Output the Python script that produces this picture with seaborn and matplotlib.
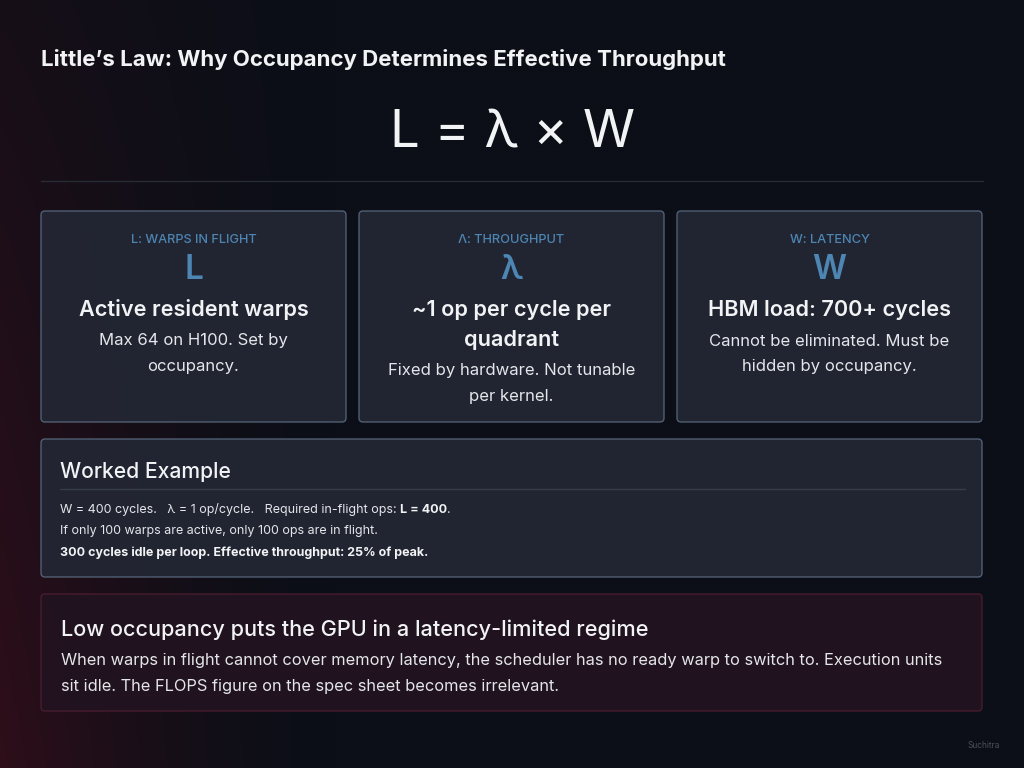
import numpy as np
import matplotlib
matplotlib.use("Agg")
import matplotlib.pyplot as plt
import seaborn as sns
from matplotlib.patches import FancyBboxPatch

# ---------------- data ----------------
title = "Little\u2019s Law: Why Occupancy Determines Effective Throughput"
formula = "L = \u03bb \u00d7 W"
card_labels = ["L: WARPS IN FLIGHT", "\u039b: THROUGHPUT", "W: LATENCY"]
card_symbols = ["L", "\u03bb", "W"]
card_headings = [["Active resident warps"], ["~1 op per cycle per", "quadrant"], ["HBM load: 700+ cycles"]]
card_descs = [["Max 64 on H100. Set by", "occupancy."],
              ["Fixed by hardware. Not tunable", "per kernel."],
              ["Cannot be eliminated. Must be", "hidden by occupancy."]]
example_title = "Worked Example"
example_line1 = ["W = 400 cycles.   \u03bb = 1 op/cycle.   Required in-flight ops: ", "L = 400", "."]
example_line2 = "If only 100 warps are active, only 100 ops are in flight."
example_line3 = "300 cycles idle per loop. Effective throughput: 25% of peak."
warn_title = "Low occupancy puts the GPU in a latency-limited regime"
warn_body = ["When warps in flight cannot cover memory latency, the scheduler has no ready warp to switch to. Execution units",
             "sit idle. The FLOPS figure on the spec sheet becomes irrelevant."]
credit = "Suchitra"

# ---------------- style ----------------
sns.set_theme(style="dark")
plt.rcParams['font.family'] = ['Inter', 'DejaVu Sans']

BG = np.array([12, 15, 23]) / 255
RED = np.array([46, 14, 26]) / 255
WHITE = "#f2f3f5"
TEXT = "#e4e6ea"
BLUE = "#4d85b3"
CARD_FILL = "#232834"
CARD_EDGE = "#55657a"
DY = 2  # vertical text nudge

fig = plt.figure(figsize=(10.24, 7.68), dpi=100)
ax = fig.add_axes([0, 0, 1, 1])
ax.set_xlim(0, 1024)
ax.set_ylim(768, 0)
ax.axis("off")

# background gradient (reddish glow on the left, stronger at bottom)
H, W = 192, 256
xx = np.linspace(0, 1, W)[None, :]
yy = np.linspace(0, 1, H)[:, None]
w = np.clip(1 - xx / 0.32, 0, 1) ** 1.6 * (0.3 + 0.7 * yy)
img = BG[None, None, :] * (1 - w[..., None]) + RED[None, None, :] * w[..., None]
ax.imshow(img, extent=(0, 1024, 768, 0), aspect="auto", zorder=0, interpolation="bilinear")

# title
ax.text(41, 57 + DY, title, fontsize=16, fontweight="bold", color=WHITE, va="center", ha="left")
# formula
ax.text(512, 132 + DY, formula, fontsize=38, fontweight="normal", color=WHITE, va="center", ha="center")
# divider
ax.plot([41, 983], [181, 181], color="#262b35", lw=1)

def box(x0, y0, x1, y1, fc, ec, alpha=1.0):
    p = FancyBboxPatch((x0, y0), x1 - x0, y1 - y0,
                       boxstyle="round,pad=0,rounding_size=4",
                       fc=fc, ec=ec, lw=1, alpha=alpha, zorder=1)
    ax.add_patch(p)

card_x = [(41, 346), (359, 664), (677, 982)]
for i, (x0, x1) in enumerate(card_x):
    box(x0, 211, x1, 422, CARD_FILL, CARD_EDGE, alpha=0.92)
    cx = (x0 + x1) / 2
    ax.text(cx, 238 + DY, card_labels[i], fontsize=9.2, fontweight="medium", color=BLUE,
            ha="center", va="center", zorder=3)
    ax.text(cx, 268 + DY, card_symbols[i], fontsize=24, fontweight="semibold", color=BLUE,
            ha="center", va="center", zorder=3)
    y = 308 + DY
    for line in card_headings[i]:
        ax.text(cx, y, line, fontsize=15.6, fontweight="semibold", color=WHITE,
                ha="center", va="center", zorder=3)
        y += 30
    y += 1
    for line in card_descs[i]:
        ax.text(cx, y, line, fontsize=12, color=TEXT,
                ha="center", va="center", zorder=3)
        y += 25

# worked example
box(41, 439, 982, 577, CARD_FILL, CARD_EDGE, alpha=0.92)
ax.text(60, 470 + DY, example_title, fontsize=15.2, fontweight="medium", color=WHITE,
        ha="left", va="center", zorder=3)
ax.plot([60, 965], [489, 489], color="#363c48", lw=1, zorder=2)
t1 = ax.text(60, 508 + DY, example_line1[0], fontsize=9, color=TEXT, ha="left", va="center", zorder=3)
t2 = ax.annotate(example_line1[1], xy=(1, 0.5), xycoords=t1, fontsize=9, fontweight="bold",
                 color=WHITE, ha="left", va="center", zorder=3)
ax.annotate(example_line1[2], xy=(1, 0.5), xycoords=t2, fontsize=9, color=TEXT,
            ha="left", va="center", zorder=3)
ax.text(60, 529 + DY, example_line2, fontsize=9, color=TEXT, ha="left", va="center", zorder=3)
ax.text(60, 551 + DY, example_line3, fontsize=9, fontweight="bold", color=WHITE, ha="left", va="center", zorder=3)

# warning box
box(41, 594, 982, 711, "#221320", "#4a1d2f", alpha=0.95)
ax.text(61, 628 + DY, warn_title, fontsize=15.6, fontweight="medium", color=WHITE,
        ha="left", va="center", zorder=3)
y = 659 + DY
for line in warn_body:
    ax.text(61, y, line, fontsize=11.8, color=TEXT, ha="left", va="center", zorder=3)
    y += 25

# credit
ax.text(1000, 746, credit, fontsize=6, color="#4a4f5a", ha="right", va="center")

fig.savefig("out.png", dpi=100, facecolor=BG)
